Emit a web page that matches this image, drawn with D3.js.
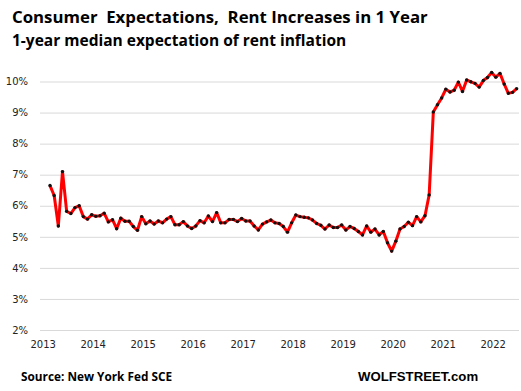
<!DOCTYPE html>
<html>
<head>
<meta charset="utf-8">
<script src="https://cdn.jsdelivr.net/npm/d3@7"></script>
<style>
  html, body { margin: 0; padding: 0; background: #fff; }
  svg { display: block; }
</style>
</head>
<body>
<svg id="chart" width="521" height="391"></svg>
<script>
// Monthly series, starting June 2013 (NY Fed SCE), values in percent
const startYear = 2013;
const startMonth = 6;
const values = [
  6.65, 6.33, 5.35, 7.10, 5.82, 5.75, 5.94, 6.00, 5.65, 5.57,
  5.71, 5.66, 5.68, 5.76, 5.48, 5.55, 5.26, 5.60, 5.50, 5.50,
  5.33, 5.21, 5.65, 5.42, 5.51, 5.41, 5.51, 5.45, 5.57, 5.65,
  5.39, 5.39, 5.49, 5.35, 5.27, 5.35, 5.52, 5.45, 5.67, 5.49,
  5.78, 5.45, 5.45, 5.56, 5.56, 5.49, 5.59, 5.51, 5.51, 5.35,
  5.22, 5.41, 5.48, 5.54, 5.45, 5.43, 5.33, 5.15, 5.45, 5.70,
  5.65, 5.63, 5.61, 5.54, 5.43, 5.37, 5.25, 5.38, 5.30, 5.30,
  5.38, 5.22, 5.33, 5.27, 5.17, 5.06, 5.35, 5.15, 5.25, 5.06,
  5.17, 4.81, 4.54, 4.86, 5.25, 5.33, 5.47, 5.36, 5.65, 5.48,
  5.68, 6.35, 9.02, 9.25, 9.47, 9.75, 9.66, 9.72, 9.98, 9.68,
  10.05, 9.99, 9.94, 9.82, 10.03, 10.13, 10.29, 10.14, 10.26, 9.92,
  9.62, 9.65, 9.77
];
const yTicks = [2, 3, 4, 5, 6, 7, 8, 9, 10];
const yearLabels = [2013, 2014, 2015, 2016, 2017, 2018, 2019, 2020, 2021, 2022];
// label position (in months relative to first observation) as drawn on the original axis
const labelOffsetMonths = -1.75;

const svg = d3.select("#chart");

const x = d3.scaleLinear().domain([-2.4, 112.56]).range([40, 519]);
const y = d3.scaleLinear().domain([2, 10]).range([330, 81.5]);

// Titles
svg.append("text")
  .attr("x", 12).attr("y", 23)
  .attr("font-family", "'Open Sans', 'DejaVu Sans', sans-serif")
  .attr("font-weight", "bold").attr("font-size", 16.8)
  .attr("fill", "#000")
  .attr("xml:space", "preserve")
  .style("white-space", "pre")
  .text("Consumer  Expectations,  Rent Increases in 1 Year");

svg.append("text")
  .attr("x", 12).attr("y", 46)
  .attr("font-family", "'Open Sans', 'DejaVu Sans', sans-serif")
  .attr("font-weight", "bold").attr("font-size", 15.5)
  .attr("fill", "#000")
  .text("1-year median expectation of rent inflation");

// Grid lines
const yAxis = d3.axisLeft(y)
  .tickValues(yTicks)
  .tickSize(-(519 - 40))
  .tickPadding(12)
  .tickFormat(d => d + "%");

const gY = svg.append("g").attr("transform", "translate(40,0)").call(yAxis);
gY.select(".domain").remove();
gY.selectAll(".tick line").attr("stroke", "#d9d9d9").attr("stroke-width", 1);
gY.selectAll(".tick text")
  .attr("font-family", "'DejaVu Sans', Verdana, sans-serif")
  .attr("font-size", 10)
  .attr("fill", "#222");

// X axis labels
const xAxis = d3.axisBottom(x)
  .tickValues(yearLabels.map((yr) => (yr - startYear) * 12 + labelOffsetMonths))
  .tickSize(0)
  .tickPadding(0)
  .tickFormat((d, i) => String(yearLabels[i]));

const gX = svg.append("g").attr("transform", "translate(0,341)").call(xAxis);
gX.select(".domain").remove();
gX.selectAll(".tick text")
  .attr("font-family", "'DejaVu Sans', Verdana, sans-serif")
  .attr("font-size", 10)
  .attr("fill", "#222");

// Line
const data = values.map((v, i) => ({ i, v }));
const line = d3.line().x(d => x(d.i)).y(d => y(d.v));

svg.append("path")
  .datum(data)
  .attr("d", line)
  .attr("fill", "none")
  .attr("stroke", "#ff0000")
  .attr("stroke-width", 3)
  .attr("stroke-linejoin", "round");

svg.append("g").selectAll("circle")
  .data(data)
  .join("circle")
  .attr("cx", d => x(d.i))
  .attr("cy", d => y(d.v))
  .attr("r", 1.7)
  .attr("fill", "#111");

// Footer
svg.append("text")
  .attr("x", 21).attr("y", 381)
  .attr("font-family", "'Open Sans', 'DejaVu Sans', sans-serif")
  .attr("font-weight", "bold").attr("font-size", 11.8)
  .attr("fill", "#000")
  .text("Source: New York Fed SCE");

svg.append("text")
  .attr("x", 358).attr("y", 381)
  .attr("font-family", "'Liberation Sans', Arial, sans-serif")
  .attr("font-weight", "bold").attr("font-size", 13.2)
  .attr("fill", "#000")
  .text("WOLFSTREET.com");
</script>
</body>
</html>
